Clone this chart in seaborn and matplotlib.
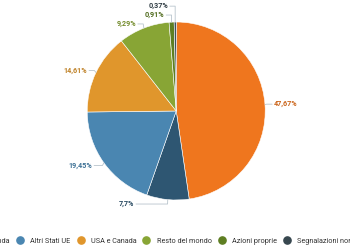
import numpy as np
import matplotlib
matplotlib.use("Agg")
import matplotlib.pyplot as plt
import matplotlib.colors as mcolors
from matplotlib.lines import Line2D
import seaborn as sns

categories = ["Italia", "Olanda", "Altri Stati UE", "USA e Canada",
              "Resto del mondo", "Azioni proprie", "Segnalazioni non pervenute"]
values = [47.67, 7.7, 19.45, 14.61, 9.29, 0.91, 0.37]
value_labels = ["47,67%", "7,7%", "19,45%", "14,61%", "9,29%", "0,91%", "0,37%"]
colors = ["#EF761E", "#2E5672", "#4A86B1", "#E0962C", "#88A535", "#5E7E22", "#37474F"]

sns.set_theme(style="white")
plt.rcParams['font.family'] = ['Roboto', 'DejaVu Sans']

fig = plt.figure(figsize=(3.5, 2.5), dpi=100)
ax = fig.add_axes([0.249, 0.2, 0.509, 0.712])
wedges, _ = ax.pie(values, colors=colors, startangle=90, counterclock=False,
                   wedgeprops=dict(edgecolor="white", linewidth=0.4))
ax.set_xlim(-1, 1)
ax.set_ylim(-1, 1)
ax.set_aspect("equal")
ax.axis("off")

def darker(c, f=0.85):
    r, g, b = mcolors.to_rgb(c)
    return (r * f, g * f, b * f)

prev_left = None
for w, lab, col in zip(wedges, value_labels, colors):
    ang = np.deg2rad((w.theta1 + w.theta2) / 2)
    cx, cy = np.cos(ang), np.sin(ang)
    side = 1 if cx >= 0 else -1
    ty = cy * 1.05
    if side < 0:
        if prev_left is not None and ty < prev_left + 0.1:
            ty = prev_left + 0.1
        prev_left = ty
    ex = cx * 1.02
    hl = 0.06 + 0.3 * max(0.0, -cy) ** 4
    tx = ex + side * hl
    ax.plot([cx, ex, tx], [cy, ty, ty], color="#b8c4cc", lw=0.6,
            clip_on=False, solid_capstyle="round")
    ax.text(tx + side * 0.02, ty, lab, ha="left" if side > 0 else "right",
            va="center", fontsize=5.2, fontweight="bold", color=darker(col),
            clip_on=False)

handles = [Line2D([0], [0], marker="o", linestyle="", markersize=5.2,
                  markerfacecolor=c, markeredgecolor=c) for c in colors]
fig.legend(handles, categories, loc="center", bbox_to_anchor=(0.463, 0.035),
           ncol=len(categories), frameon=False, fontsize=5.2,
           handletextpad=0.9, columnspacing=0.9, handlelength=1.0,
           labelcolor="#333333")

fig.savefig("out.png", dpi=100, facecolor="white")
